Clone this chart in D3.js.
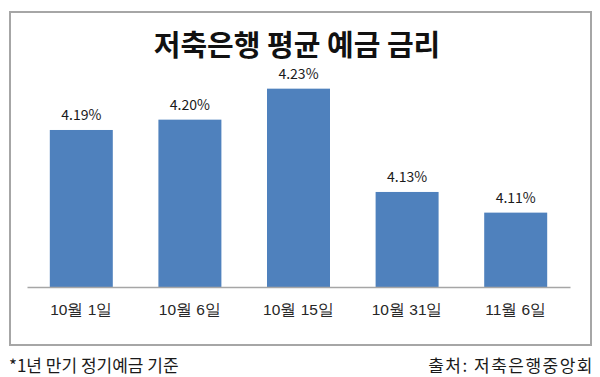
<!DOCTYPE html>
<html>
<head>
<meta charset="utf-8">
<script src="https://cdn.jsdelivr.net/npm/d3@7"></script>
<style>
  html, body { margin: 0; padding: 0; background: #fff; }
  svg { display: block; font-family: "Noto Sans CJK KR", "Noto Sans", sans-serif; }
  .x.axis path { stroke: #a6a6a6; stroke-width: 1.5; }
  .x.axis text { font-size: 15.5px; fill: #262626; }
</style>
</head>
<body>
<svg id="chart" width="600" height="377"></svg>
<script>
const dates = ['10월 1일', '10월 6일', '10월 15일', '10월 31일', '11월 6일'];
const rates = [4.19, 4.20, 4.23, 4.13, 4.11];
const yDomain = [4.038, 4.25];
const title = '저축은행 평균 예금 금리';
const footnote = '*1년 만기 정기예금 기준';
const source = '출처: 저축은행중앙회';

const data = dates.map(function(d, i) { return { date: d, rate: rates[i] }; });

const svg = d3.select('#chart');

// outer frame
svg.append('rect')
  .attr('x', 10)
  .attr('y', 12)
  .attr('width', 581)
  .attr('height', 333)
  .attr('fill', '#fff')
  .attr('stroke', '#a6a6a6')
  .attr('stroke-width', 2);

svg.append('text')
  .attr('x', 297)
  .attr('y', 56)
  .attr('text-anchor', 'middle')
  .style('font-size', '29px')
  .style('font-weight', 'bold')
  .style('fill', '#111')
  .text(title);

let x = d3.scaleBand()
  .range([27, 570])
  .paddingInner(0.42)
  .paddingOuter(0.21)
  .domain(dates);

let y = d3.scaleLinear()
  .range([287, 68])
  .domain(yDomain);

svg.selectAll('.bar')
  .data(data)
  .enter().append('rect')
  .attr('class', 'bar')
  .attr('x', function(d) { return x(d.date); })
  .attr('width', x.bandwidth())
  .attr('y', function(d) { return y(d.rate); })
  .attr('height', function(d) { return y(yDomain[0]) - y(d.rate); })
  .attr('fill', '#4f81bd');

svg.selectAll('.val')
  .data(data)
  .enter().append('text')
  .attr('class', 'val')
  .attr('x', function(d) { return x(d.date) + x.bandwidth() / 2; })
  .attr('y', function(d) { return y(d.rate) - 10; })
  .attr('text-anchor', 'middle')
  .style('font-size', '14px')
  .style('fill', '#1a1a1a')
  .text(function(d) { return d3.format('.2f')(d.rate) + '%'; });

let x_axis = d3.axisBottom(x)
  .tickSize(0)
  .tickPadding(17);

svg.append('g')
  .attr('class', 'x axis')
  .attr('transform', 'translate(0,' + y(yDomain[0]) + ')')
  .call(x_axis);

svg.append('text')
  .attr('x', 9)
  .attr('y', 372)
  .style('font-size', '17px')
  .style('fill', '#1a1a1a')
  .text(footnote);

svg.append('text')
  .attr('x', 594)
  .attr('y', 372)
  .attr('text-anchor', 'end')
  .style('font-size', '17px')
  .style('letter-spacing', '1.5px')
  .style('fill', '#1a1a1a')
  .text(source);
</script>
</body>
</html>
